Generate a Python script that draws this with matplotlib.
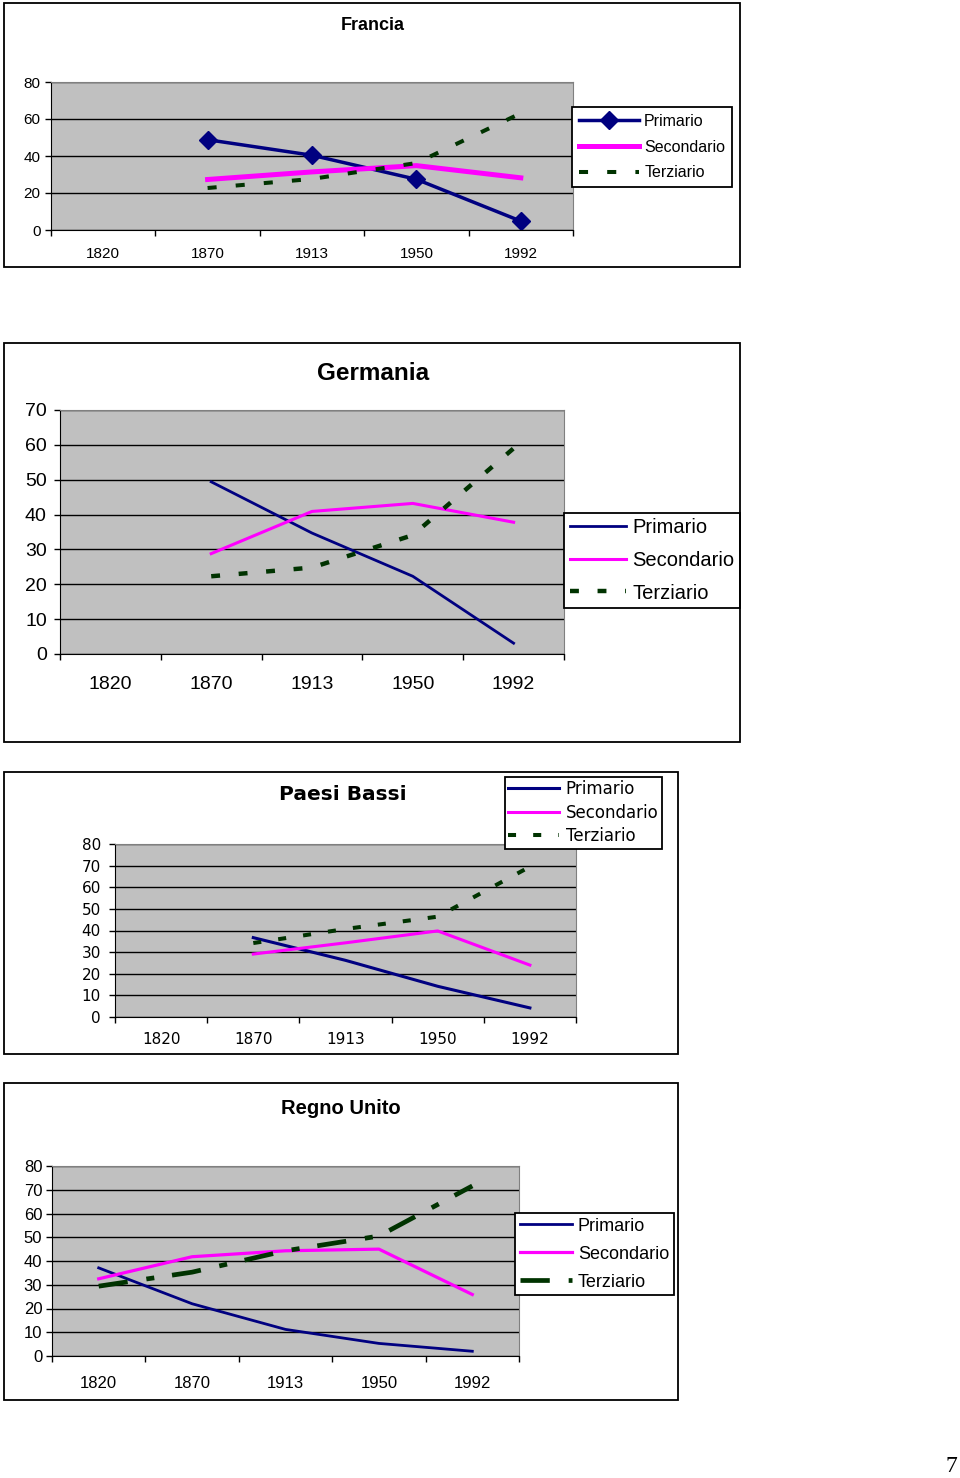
import numpy as np
import matplotlib.pyplot as plt
from matplotlib.patches import Rectangle

# dati: quota di occupati per settore (%)
anni = ['1820', '1870', '1913', '1950', '1992']
serie = ['Primario', 'Secondario', 'Terziario']

francia_primario = [np.nan, 48.8, 40.4, 27.4, 4.8]
francia_secondario = [np.nan, 27.3, 31.4, 34.8, 28.2]
francia_terziario = [np.nan, 22.7, 27.6, 36.2, 63.1]

germania_primario = [np.nan, 49.4, 34.7, 22.3, 3.1]
germania_secondario = [np.nan, 28.8, 40.9, 43.2, 37.8]
germania_terziario = [np.nan, 22.3, 24.8, 34.1, 59.0]

paesi_primario = [np.nan, 36.7, 26.2, 14.2, 4.2]
paesi_secondario = [np.nan, 29.1, 34.3, 39.8, 24.0]
paesi_terziario = [np.nan, 34.2, 40.7, 46.4, 69.5]

regno_primario = [37.1, 22.0, 11.2, 5.3, 2.0]
regno_secondario = [32.5, 41.8, 44.3, 45.0, 25.9]
regno_terziario = [29.4, 35.3, 44.3, 50.5, 71.6]

W, H = 960, 1478
NAVY, MAGENTA, VERDE = '#000080', '#FF00FF', '#003300'

fig = plt.figure(figsize=(W / 100, H / 100), dpi=100)


def fbox(x0, y0, x1, y1):
    # pixel (origine in alto a sinistra) -> frazioni della figura
    return [x0 / W, 1 - y1 / H, (x1 - x0) / W, (y1 - y0) / H]


def pannello(cornice, area, titolo, xy_tit, fs_tit, dati, stili, yticks, fam,
             fs, pad_x, pad_y, leg_xy, leg_fs, leg_kw):
    l, b, w, h = fbox(*cornice)
    fig.add_artist(Rectangle((l, b), w, h, transform=fig.transFigure,
                             fill=False, ec='black', lw=1.3))
    fig.text(xy_tit[0] / W, 1 - xy_tit[1] / H, titolo, ha='center',
             va='center', fontsize=fs_tit, fontweight='bold', family=fam)

    ax = fig.add_axes(fbox(*area))
    ax.set_facecolor('#C0C0C0')
    x = np.arange(len(anni))
    for nome, y, st in zip(serie, dati, stili):
        ax.plot(x, y, label=nome, **st)

    ax.set_xlim(-0.5, len(anni) - 0.5)
    ax.set_ylim(yticks[0], yticks[-1])
    ax.set_yticks(yticks)
    ax.set_xticks(x, anni)
    ax.set_xticks(np.arange(len(anni) + 1) - 0.5, minor=True)
    ax.tick_params(axis='x', which='major', length=0, pad=pad_x, labelsize=fs)
    ax.tick_params(axis='x', which='minor', length=4, width=1, direction='out')
    ax.tick_params(axis='y', length=4, width=1, direction='out', labelsize=fs,
                   pad=pad_y)
    for t in ax.get_xticklabels() + ax.get_yticklabels():
        t.set_family(fam)
    ax.yaxis.grid(True, color='black', lw=1)
    for s in ['top', 'right']:
        ax.spines[s].set_color('#808080')

    leg = ax.legend(loc='upper left',
                    bbox_to_anchor=(leg_xy[0] / W, 1 - leg_xy[1] / H),
                    bbox_transform=fig.transFigure,
                    prop={'family': fam, 'size': leg_fs}, frameon=True,
                    fancybox=False, edgecolor='black', framealpha=1,
                    borderaxespad=0, **leg_kw)
    leg.get_frame().set_linewidth(1.3)
    return ax


# Francia
pannello((4, 3, 740, 267), (51, 82, 573, 230), 'Francia', (373, 25), 13,
         [francia_primario, francia_secondario, francia_terziario],
         [dict(color=NAVY, lw=2.5, marker='D', ms=9.5),
          dict(color=MAGENTA, lw=3.6),
          dict(color=VERDE, lw=2.9, ls=(0, (2.25, 4.75)))],
         [0, 20, 40, 60, 80], 'Liberation Sans', 11, 12, 3.6,
         (572, 107), 11.5,
         dict(handlelength=3.8, handletextpad=0.3, labelspacing=0.68,
              borderpad=0.42))

# Germania
pannello((4, 343, 740, 742), (60, 410, 564, 654), 'Germania', (373, 373), 17.5,
         [germania_primario, germania_secondario, germania_terziario],
         [dict(color=NAVY, lw=2.0),
          dict(color=MAGENTA, lw=2.2),
          dict(color=VERDE, lw=3.2, ls=(0, (2.0, 4.2)))],
         list(range(0, 71, 10)), 'Liberation Sans', 14, 16, 5.5,
         (564, 512.5), 14.5,
         dict(handlelength=2.8, handletextpad=0.3, labelspacing=0.68,
              borderpad=0.28))

# Paesi Bassi
pannello((4, 772, 678, 1054), (115, 844, 576, 1017), 'Paesi Bassi', (343, 794),
         14.5, [paesi_primario, paesi_secondario, paesi_terziario],
         [dict(color=NAVY, lw=2.2),
          dict(color=MAGENTA, lw=2.2),
          dict(color=VERDE, lw=2.9, ls=(0, (2.0, 4.25)))],
         list(range(0, 81, 10)), 'DejaVu Sans', 11, 10.5, 6.2,
         (505, 777), 12,
         dict(handlelength=3.05, handletextpad=0.4, labelspacing=0.33,
              borderpad=0.2))

# Regno Unito
pannello((4, 1083, 678, 1400), (52, 1166, 519, 1356), 'Regno Unito',
         (341, 1108), 14.5,
         [regno_primario, regno_secondario, regno_terziario],
         [dict(color=NAVY, lw=2.0),
          dict(color=MAGENTA, lw=2.3),
          dict(color=VERDE, lw=3.4, ls=(0, (6.2, 4, 1.7, 3.8)))],
         list(range(0, 81, 10)), 'Liberation Sans', 12, 14.5, 3,
         (515, 1213), 13,
         dict(handlelength=2.9, handletextpad=0.33, labelspacing=0.61,
              borderpad=0.25))

fig.text(951 / W, 1 - 1466 / H, '7', ha='center', va='center', fontsize=17,
         family='Liberation Serif')

fig.savefig('out.png', dpi=100)
